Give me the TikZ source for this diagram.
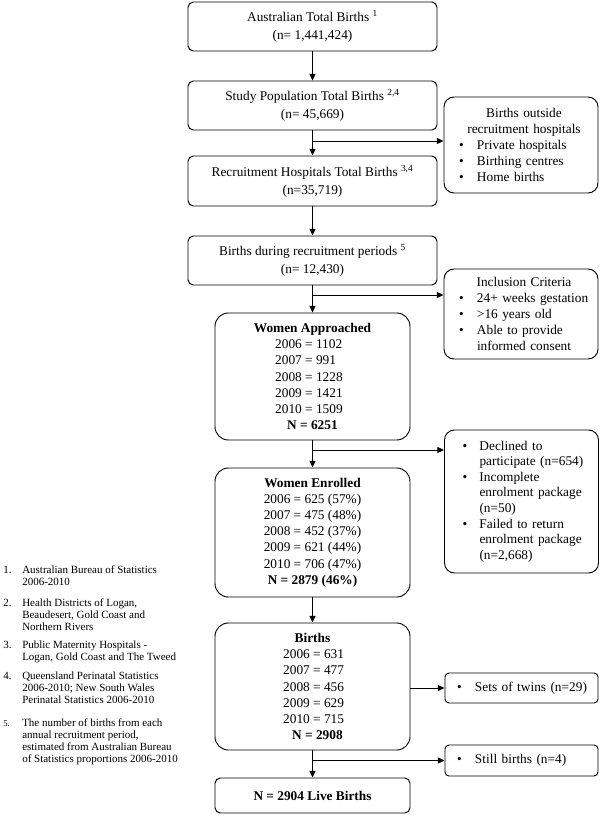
\documentclass[tikz,border=0pt]{standalone}
\usepackage{fontspec}
\setmainfont{Liberation Serif}
\usetikzlibrary{arrows.meta}
\newcommand\mfont{\fontsize{10}{13.5}\selectfont}
\newcommand\bfont{\fontsize{10}{12.15}\selectfont}
\newcommand\sfont{\fontsize{10}{12}\selectfont}
\newcommand\dfont{\fontsize{10}{11.7}\selectfont}
\newcommand\ffont{\fontsize{8.25}{9}\selectfont}
\newcommand\bl[2]{\hspace*{#1}\makebox[#2][l]{\textbullet}}
\newcommand\yla[1]{\makebox[56pt][l]{#1}}
\newcommand\ylb[1]{\makebox[44pt][l]{#1}}
\newcommand\ftab[1]{\begin{tabular}[t]{@{}l@{}}#1\end{tabular}}
\begin{document}
\begin{tikzpicture}[x=0.75pt,y=-0.75pt,
  base/.style={draw, line width=0.7pt, inner sep=0pt},
  topbox/.style={base, rounded corners=4pt, minimum width=186.75pt, align=center, font=\mfont},
  bigbox/.style={base, rounded corners=10pt, minimum width=146.25pt, align=center, font=\bfont},
  sidebox/.style={base, rounded corners=7.5pt, text width=115.5pt, font=\sfont},
  smallbox/.style={base, rounded corners=3pt, text width=114.75pt, font=\sfont},
  fn/.style={inner sep=0pt, font=\ffont, anchor=base west},
  arr/.style={-{Triangle[length=5pt,width=4.5pt]}, line width=0.7pt}]
\useasboundingbox (0,0) rectangle (600,816);

% main column
\node[topbox, minimum height=36.75pt] (b1) at (312.5,26.5)
  {Australian Total Births \textsuperscript{1}\\(n= 1,441,424)};
\node[topbox, minimum height=36.75pt] (b2) at (312.5,105.5)
  {Study Population Total Births \textsuperscript{2,4}\\(n= 45,669)};
\node[topbox, minimum height=37.5pt] (b3) at (312.5,181)
  {Recruitment Hospitals Total Births \textsuperscript{3,4}\\(n=35,719)};
\node[topbox, minimum height=36.75pt] (b4) at (312.5,260.5)
  {Births during recruitment periods \textsuperscript{5}\\(n= 12,430)};

\node[bigbox, minimum height=95.25pt] (wa) at (312.5,376.5)
  {\textbf{Women Approached}\\\yla{2006 = 1102}\\\yla{2007 = 991}\\\yla{2008 = 1228}\\\yla{2009 = 1421}\\\yla{2010 = 1509}\\\yla{\hspace*{9pt}\textbf{N = 6251}}};
\node[bigbox, minimum height=96.75pt] (we) at (312.5,532.5)
  {\textbf{Women Enrolled}\\2006 = 625 (57\%)\\2007 = 475 (48\%)\\2008 = 452 (37\%)\\2009 = 621 (44\%)\\2010 = 706 (47\%)\\\textbf{N = 2879 (46\%)}};
\node[bigbox, minimum height=95.25pt] (bi) at (312.5,686.5)
  {\textbf{Births}\\\ylb{2006 = 631}\\\ylb{2007 = 477}\\\ylb{2008 = 456}\\\ylb{2009 = 629}\\\ylb{2010 = 715}\\\ylb{\hspace*{6.75pt}\textbf{N = 2908}}};
\node[base, rounded corners=4pt, minimum width=146.25pt, minimum height=26.25pt, font=\mfont] (lb) at (312.5,795.5)
  {\textbf{N = 2904 Live Births}};

% side boxes
\node[sidebox, minimum height=72pt] (out) at (521,145)
  {\parindent=0pt\centering\hspace*{4.5pt}Births outside\par
   \hspace*{4.5pt}recruitment hospitals\par\raggedright
   \bl{11.25pt}{13.5pt}Private hospitals\par
   \bl{11.25pt}{13.5pt}Birthing centres\par
   \bl{11.25pt}{13.5pt}Home births\par};
\node[sidebox, minimum height=67.5pt] (inc) at (521,314)
  {\parindent=0pt\centering\hspace*{4.5pt}Inclusion Criteria\par\raggedright
   \bl{11.25pt}{13.5pt}24+ weeks gestation\par
   \bl{11.25pt}{13.5pt}>16 years old\par
   \bl{11.25pt}{13.5pt}Able to provide\par
   \hspace*{24.75pt}informed consent\par};
\node[sidebox, font=\dfont, minimum height=107.25pt] (dec) at (521.5,501.5)
  {\parindent=0pt\raggedright
   \bl{13.5pt}{12.75pt}Declined to\par
   \hspace*{26.25pt}participate (n=654)\par
   \bl{13.5pt}{12.75pt}Incomplete\par
   \hspace*{26.25pt}enrolment package\par
   \hspace*{26.25pt}(n=50)\par
   \bl{13.5pt}{12.75pt}Failed to return\par
   \hspace*{26.25pt}enrolment package\par
   \hspace*{26.25pt}(n=2,668)\par};
\node[smallbox, minimum height=22.5pt] (tw) at (521.5,688)
  {\parindent=0pt\raggedright\bl{9pt}{13.5pt}Sets of twins (n=29)\par};
\node[smallbox, minimum height=23.25pt] (st) at (521.5,760.5)
  {\parindent=0pt\raggedright\bl{9pt}{13.5pt}Still births (n=4)\par};

% connectors
\coordinate (j1) at (312.5,141);
\coordinate (j2) at (312.5,295);
\coordinate (j3) at (312.5,450);
\coordinate (j4) at (312.5,760.5);
\draw[arr] (b1.south) -- (b2.north);
\draw[arr] (b2.south) -- (b3.north);
\draw[arr] (b3.south) -- (b4.north);
\draw[arr] (b4.south) -- (wa.north);
\draw[arr] (wa.south) -- (we.north);
\draw[arr] (we.south) -- (bi.north);
\draw[arr] (bi.south) -- (lb.north);
\draw[arr] (j1) -- (j1 -| out.west);
\draw[arr] (j2) -- (j2 -| inc.west);
\draw[arr] (j3) -- (j3 -| dec.west);
\draw[arr] (bi.east |- tw.west) -- (tw.west);
\draw[arr] (j4) -- (j4 -| st.west);

% footnotes
\node[fn] (n1) at (3,573) {1.};
\node[fn] (t1) at (22,573) {\ftab{Australian Bureau of Statistics\\2006-2010}};
\node[fn] (n2) at (3,606) {2.};
\node[fn] (t2) at (22,606) {\ftab{Health Districts of Logan,\\Beaudesert, Gold Coast and\\Northern Rivers}};
\node[fn] (n3) at (3,648) {3.};
\node[fn] (t3) at (22,648) {\ftab{Public Maternity Hospitals -\\Logan, Gold Coast and The Tweed}};
\node[fn] (n4) at (3,679) {4.};
\node[fn] (t4) at (22,679) {\ftab{Queensland Perinatal Statistics\\2006-2010; New South Wales\\Perinatal Statistics 2006-2010}};
\node[fn, font=\fontsize{6.5}{8}\selectfont] (n5) at (3,726) {5.};
\node[fn] (t5) at (22,726) {\ftab{The number of births from each\\annual recruitment period,\\estimated from Australian Bureau\\of Statistics proportions 2006-2010}};
\end{tikzpicture}
\end{document}
